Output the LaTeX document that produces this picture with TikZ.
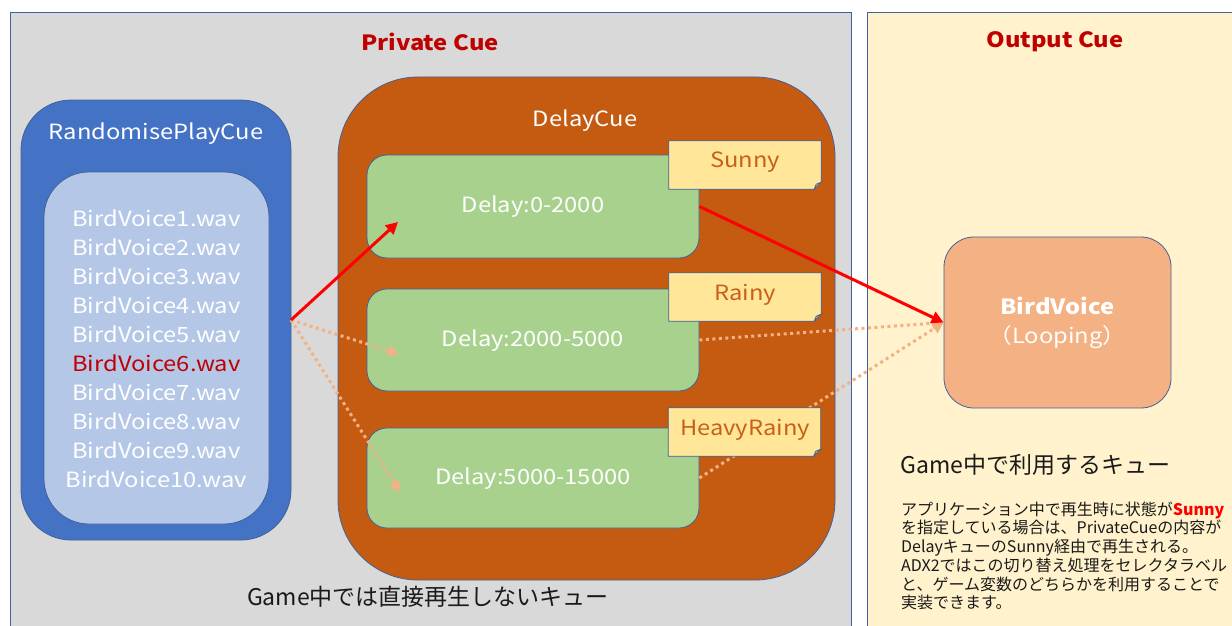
\documentclass[tikz,border=0pt]{standalone}
\usepackage{fontspec}
\setmainfont{Noto Sans CJK JP}
\newfontfamily\latwide[FakeStretch=1.13]{Noto Sans CJK JP}
\usetikzlibrary{arrows.meta}
\definecolor{bord}{HTML}{41629A}
\definecolor{panelgray}{HTML}{D9D9D9}
\definecolor{outbg}{HTML}{FFF2CC}
\definecolor{titlered}{HTML}{C00000}
\definecolor{rpblue}{HTML}{4472C4}
\definecolor{rplight}{HTML}{B4C7E7}
\definecolor{delayor}{HTML}{C55A11}
\definecolor{green1}{HTML}{A9D18E}
\definecolor{notefill}{HTML}{FFE699}
\definecolor{notefold}{HTML}{C9B680}
\definecolor{notetext}{HTML}{C8601A}
\definecolor{bvfill}{HTML}{F4B183}
\definecolor{peach}{HTML}{F4B183}
\definecolor{txtdark}{HTML}{1A1A1A}
\begin{document}
\begin{tikzpicture}[x=1pt,y=-1pt,
  panel/.style={draw=bord, line width=0.8pt},
  rbox/.style={draw=bord, line width=0.8pt, inner sep=0pt},
  titletxt/.style={text=titlered, font=\latwide\fontsize{21}{25}\selectfont\bfseries},
  boxtxt/.style={text=white, font=\latwide\fontsize{21}{25}\selectfont, inner sep=0pt},
  notebox/.style={minimum width=152pt, minimum height=48pt, inner sep=0pt},
  noteline/.style={draw=bord, line width=0.8pt, fill=notefill},
  notetxt/.style={text=notetext, font=\latwide\fontsize{21}{25}\selectfont, inner sep=0pt},
  redarrow/.style={draw=red, line width=3pt, -{Triangle[length=12pt,width=12pt]}},
  dotarrow/.style={draw=peach, line width=3pt, dash pattern=on 3pt off 3.5pt, -{Triangle[length=11pt,width=11pt]}},
  darktxt/.style={text=txtdark, inner sep=0pt}]
\useasboundingbox (0,0) rectangle (1232,626);
\fill[white] (0,0) rectangle (1232,626);
\begin{scope}
  \clip (0,0) rectangle (1232,626);
  \draw[panel, fill=panelgray] (10,12) rectangle (851,645);
  \draw[panel, fill=outbg] (867,12) rectangle (1250,645);
\end{scope}
\node[titletxt] (ptitle) at (430,42) {Private Cue};
\node[titletxt] (otitle) at (1055,42) {Output Cue};
% RandomisePlayCue
\node[rbox, fill=rpblue, rounded corners=50pt, minimum width=270pt, minimum height=440pt] (rp) at (156,320) {};
\node[boxtxt] (rptitle) at (156,134) {RandomisePlayCue};
\node[rbox, fill=rplight, rounded corners=45pt, minimum width=225pt, minimum height=352pt] (rpin) at (156.5,348) {};
\node[boxtxt, align=center, font=\latwide\fontsize{21}{29}\selectfont] (rplist) at (156.5,348.5) {BirdVoice1.wav\\BirdVoice2.wav\\BirdVoice3.wav\\BirdVoice4.wav\\BirdVoice5.wav\\\textcolor{titlered}{BirdVoice6.wav}\\BirdVoice7.wav\\BirdVoice8.wav\\BirdVoice9.wav\\BirdVoice10.wav};
% DelayCue
\node[rbox, fill=delayor, rounded corners=80pt, minimum width=497pt, minimum height=503pt] (dc) at (586.5,328.5) {};
\node[boxtxt] (dctitle) at (585,121) {DelayCue};
\node[rbox, fill=green1, rounded corners=20pt, minimum width=332pt, minimum height=103pt] (g1) at (533,206.5) {};
\node[rbox, fill=green1, rounded corners=20pt, minimum width=332pt, minimum height=102pt] (g2) at (533,340) {};
\node[rbox, fill=green1, rounded corners=20pt, minimum width=332pt, minimum height=100pt] (g3) at (533,478) {};
\node[boxtxt] (g1t) at (533,207) {Delay:0-2000};
\node[boxtxt] (g2t) at (533,341) {Delay:2000-5000};
\node[boxtxt] (g3t) at (533,479) {Delay:5000-15000};
% BirdVoice output
\node[rbox, fill=bvfill, rounded corners=30pt, minimum width=227pt, minimum height=171pt] (bv) at (1057.5,322.5) {};
\node[boxtxt, align=center, font=\latwide\fontsize{21}{29}\selectfont] (bvt) at (1057.5,323) {{\bfseries BirdVoice}\\（Looping）};
% arrows
\coordinate (src) at (291,320);
\coordinate (t1) at (398,222);
\coordinate (t2) at (399,354);
\coordinate (t3) at (400,492);
\draw[dotarrow] (src) -- (t2);
\draw[dotarrow] (src) -- (t3);
\draw[dotarrow] (g2.east) -- (bv.west);
\draw[dotarrow] (g3.east) -- (bv.west);
\draw[redarrow] (src) -- (t1);
\draw[redarrow] (g1.east) -- (bv.west);
% notes
\node[notebox] (nsunny) at (745,165) {};
\node[notebox] (nrainy) at (745,297) {};
\node[notebox] (nheavy) at (744.5,432) {};
\foreach \n in {nsunny,nrainy,nheavy}{
  \draw[noteline] (\n.north west) -- (\n.north east) -- ([yshift=7pt]\n.south east) -- ([xshift=-7pt]\n.south east) -- (\n.south west) -- cycle;
  \draw[bord, line width=0.8pt, fill=notefold] ([yshift=7pt]\n.south east) -- ([xshift=-5pt,yshift=5pt]\n.south east) -- ([xshift=-7pt]\n.south east) -- cycle;
}
\node[notetxt] (nsunnyt) at (745,162.5) {Sunny};
\node[notetxt] (nrainyt) at (745,294.5) {Rainy};
\node[notetxt] (nheavyt) at (745,429.5) {HeavyRainy};
% texts
\node[darktxt, font=\fontsize{23}{28}\selectfont] (bottomtxt) at (428,597) {Game中では直接再生しないキュー};
\node[darktxt, anchor=west, font=\fontsize{23}{28}\selectfont] (gametitle) at (900,465) {Game中で利用するキュー};
\node[darktxt, anchor=north west, align=left, font=\fontsize{16}{18.7}\selectfont] (para) at (901,501.5) {アプリケーション中で再生時に状態が{\bfseries\color{red}Sunny}\\を指定している場合は、PrivateCueの内容が\\DelayキューのSunny経由で再生される。\\ADX2ではこの切り替え処理をセレクタラベル\\と、ゲーム変数のどちらかを利用することで\\実装できます。};
\end{tikzpicture}
\end{document}
